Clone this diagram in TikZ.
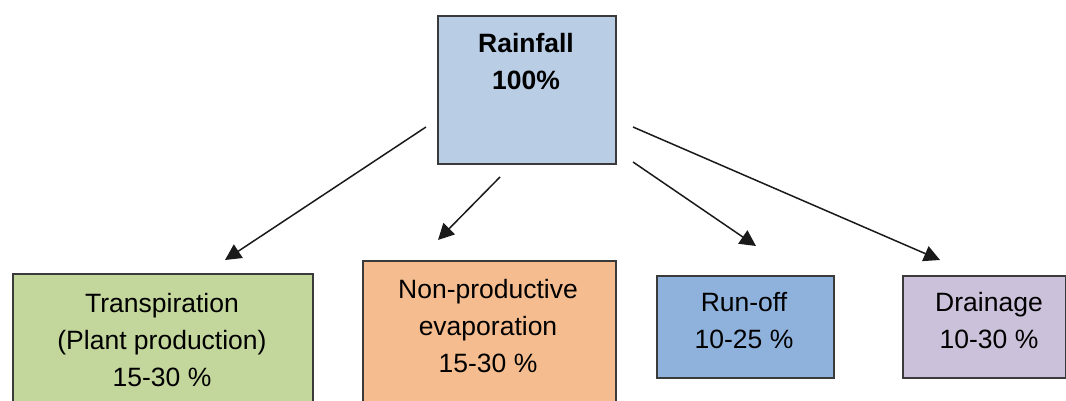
\documentclass[tikz,border=0pt]{standalone}
\usepackage{fontspec}
\setmainfont{Liberation Sans}
\usetikzlibrary{arrows.meta}
\definecolor{rainc}{HTML}{B9CDE5}
\definecolor{transc}{HTML}{C3D69B}
\definecolor{evapc}{HTML}{F5BD8F}
\definecolor{runc}{HTML}{8FB2DC}
\definecolor{drainc}{HTML}{CCC1DA}
\definecolor{boxline}{HTML}{3A3A3A}
\definecolor{arrc}{HTML}{1A1A1A}
\begin{document}
\begin{tikzpicture}[x=1pt,y=-1pt,
  box/.style={draw=boxline, line width=1.6pt, inner sep=0pt, anchor=north west},
  lbl/.style={align=center, font=\fontsize{26.5}{37}\selectfont},
  arr/.style={draw=arrc, line width=1.5pt, -{Triangle[length=16pt,width=16pt]}}]
\useasboundingbox (0,0) rectangle (1066,401);
\clip (0,0) rectangle (1066,401);
% boxes
\node[box, fill=rainc, minimum width=178pt, minimum height=148pt] (rain) at (437,15) {};
\node[box, fill=transc, minimum width=300pt, minimum height=170pt] (trans) at (12,273) {};
\node[box, fill=evapc, minimum width=253pt, minimum height=180pt] (evap) at (362,260) {};
\node[box, fill=runc, minimum width=177pt, minimum height=102pt] (run) at (656,275) {};
\node[box, fill=drainc, minimum width=163pt, minimum height=102pt] (drain) at (902,275) {};
% texts
\node[lbl, font=\fontsize{26.5}{37}\selectfont\bfseries] (raintxt) at (526,62) {Rainfall\\100\%};
\node[lbl] (transtxt) at (162,340) {Transpiration\\(Plant production)\\15-30 \%};
\node[lbl] (evaptxt) at (488,326) {Non-productive\\evaporation\\15-30 \%};
\node[lbl] (runtxt) at (744,321) {Run-off\\10-25 \%};
\node[lbl] (draintxt) at (989,321) {Drainage\\10-30 \%};
% arrow ends
\coordinate (a1s) at (426,127);
\coordinate (a1e) at (225,260);
\coordinate (a2s) at (500,177);
\coordinate (a2e) at (438,240);
\coordinate (a3s) at (633,127);
\coordinate (a3e) at (940,260);
\coordinate (a4s) at (633,162);
\coordinate (a4e) at (756,246);
\draw[arr] (a1s) -- (a1e);
\draw[arr] (a2s) -- (a2e);
\draw[arr] (a3s) -- (a3e);
\draw[arr] (a4s) -- (a4e);
\end{tikzpicture}
\end{document}
